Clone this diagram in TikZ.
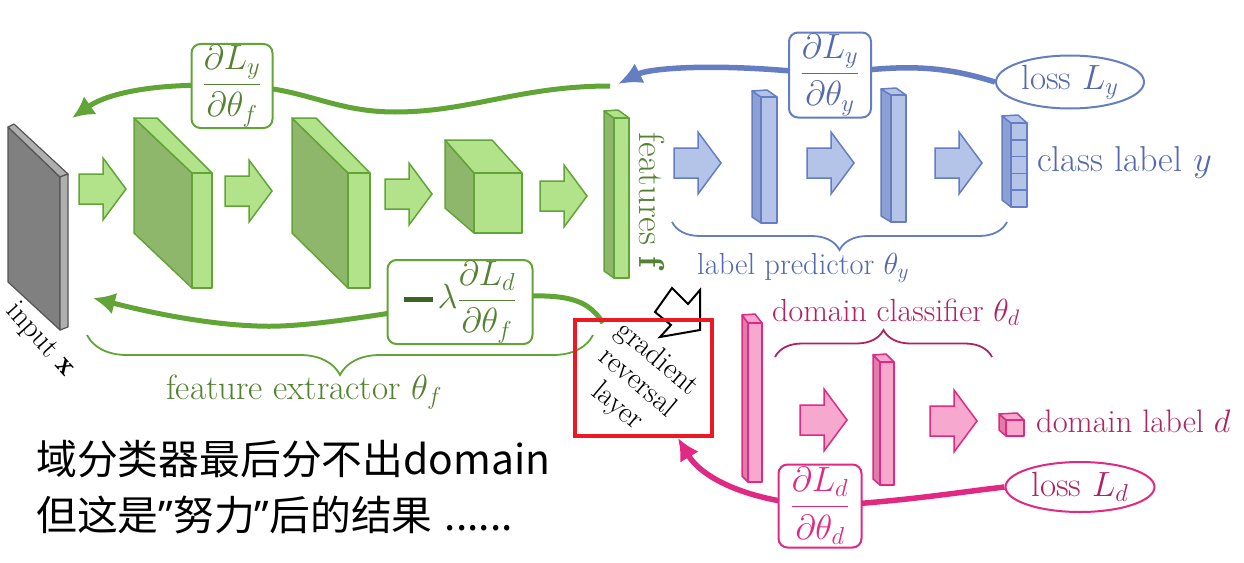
\RequirePackage{fix-cm}
\documentclass[tikz,border=0pt]{standalone}
\usepackage{amsmath}
\usepackage{fontspec}
\newfontfamily\cjk{Noto Sans CJK SC}
\newfontfamily\latq{Noto Sans}
\usetikzlibrary{arrows.meta,decorations.pathreplacing,shapes.geometric,backgrounds}
\definecolor{gline}{RGB}{98,165,55}
\definecolor{gfill}{RGB}{178,226,138}
\definecolor{gside}{RGB}{143,183,108}
\definecolor{gtext}{RGB}{85,130,50}
\definecolor{gdark}{RGB}{60,100,35}
\definecolor{bline}{RGB}{100,125,195}
\definecolor{bfill}{RGB}{180,195,232}
\definecolor{bside}{RGB}{140,160,212}
\definecolor{btext}{RGB}{85,105,175}
\definecolor{pline}{RGB}{225,40,130}
\definecolor{pfill}{RGB}{246,168,206}
\definecolor{pside}{RGB}{222,125,170}
\definecolor{ptext}{RGB}{175,35,100}
\definecolor{grayface}{RGB}{128,128,128}
\definecolor{graystrip}{RGB}{175,175,175}
\definecolor{grayline}{RGB}{85,85,85}
\definecolor{grlred}{RGB}{235,25,35}
\newcommand\fs[1]{\fontsize{#1}{#1}\selectfont}
\newcommand\blockarr[3]{\filldraw[#1] (#2,#3-15) -- (#2+24,#3-15) -- (#2+24,#3-31) -- (#2+47,#3) -- (#2+24,#3+31) -- (#2+24,#3+15) -- (#2,#3+15) -- cycle;}
\newcommand\thickminus{{\color{gdark}\rule[0.2em]{0.85em}{0.15em}}\hspace{0.12em}}
\newcommand\cnquote{{\latq ”}}
\begin{document}
\begin{tikzpicture}[x=1pt,y=-1pt,
  every node/.style={font=\fs{30}},
  gslab/.style={draw=gline, line width=1.5pt, line join=round},
  bslab/.style={draw=bline, line width=1.5pt, line join=round},
  pslab/.style={draw=pline, line width=1.5pt, line join=round},
  gslabg/.style={draw=grayline, line width=1.2pt, line join=round},
  garr/.style={draw=gline, fill=gfill, line width=1.5pt},
  barr/.style={draw=bline, fill=bfill, line width=1.5pt},
  parr/.style={draw=pline, fill=pfill, line width=1.5pt},
  gbox/.style={draw=gline, line width=2pt, rounded corners=9pt, fill=white, inner sep=1pt, text=gtext, font=\fs{35}},
  bbox/.style={draw=bline, line width=2pt, rounded corners=9pt, fill=white, inner sep=1pt, text=btext, font=\fs{35}},
  pbox/.style={draw=pline, line width=2pt, rounded corners=9pt, fill=white, inner sep=1pt, text=pline, font=\fs{35}},
  lossell/.style={ellipse, line width=2pt, fill=white, inner sep=0pt, font=\fs{35}},
  lbl/.style={anchor=base west, inner sep=0pt},
  gconn/.style={draw=gline, line width=5pt, -{Latex[length=22pt,width=22pt]}},
  bconn/.style={draw=bline, line width=5.5pt, -{Latex[length=24pt,width=22pt]}},
  pconn/.style={draw=pline, line width=5.5pt, -{Latex[length=22pt,width=22pt]}},
  bracegen/.style={decorate, line width=1.8pt}
]
\useasboundingbox (0,0) rectangle (1244,562);

% ---------- input x (gray slab)
\filldraw[gslabg, fill=grayface] (8,127) -- (60,177) -- (60,330) -- (8,282) -- cycle;
\filldraw[gslabg, fill=graystrip] (8,127) -- (14,124) -- (68,174) -- (60,177) -- cycle;
\filldraw[gslabg, fill=graystrip] (60,177) -- (68,174) -- (68,327) -- (60,330) -- cycle;

% ---------- green feature extractor
\filldraw[gslab, fill=gside] (134,118) -- (192,173) -- (192,288) -- (134,233) -- cycle;
\filldraw[gslab, fill=gfill] (134,118) -- (157,118) -- (212,173) -- (192,173) -- cycle;
\filldraw[gslab, fill=gfill] (192,173) rectangle (212,288);

\filldraw[gslab, fill=gside] (292,118) -- (348,173) -- (348,288) -- (292,233) -- cycle;
\filldraw[gslab, fill=gfill] (292,118) -- (316,118) -- (370,173) -- (348,173) -- cycle;
\filldraw[gslab, fill=gfill] (348,173) rectangle (370,288);

\filldraw[gslab, fill=gside] (445,140) -- (474,173) -- (474,233) -- (445,208) -- cycle;
\filldraw[gslab, fill=gfill] (445,140) -- (492,140) -- (522,173) -- (474,173) -- cycle;
\filldraw[gslab, fill=gfill] (474,173) rectangle (522,233);

\filldraw[gslab, fill=gside] (604,111) -- (614,118) -- (614,278) -- (604,271) -- cycle;
\filldraw[gslab, fill=gfill] (604,111) -- (618,110) -- (629,118) -- (614,118) -- cycle;
\filldraw[gslab, fill=gfill] (614,118) rectangle (629,278);

\blockarr{garr}{79}{189}
\blockarr{garr}{225}{191}
\blockarr{garr}{385}{194}
\blockarr{garr}{540}{196}

% ---------- blue label predictor
\filldraw[bslab, fill=bside] (752,91) -- (761,97) -- (761,223) -- (752,217) -- cycle;
\filldraw[bslab, fill=bfill] (752,91) -- (767,90) -- (777,97) -- (761,97) -- cycle;
\filldraw[bslab, fill=bfill] (761,97) rectangle (777,223);

\filldraw[bslab, fill=bside] (881,89) -- (891,95) -- (891,222) -- (881,216) -- cycle;
\filldraw[bslab, fill=bfill] (881,89) -- (896,88) -- (906,95) -- (891,95) -- cycle;
\filldraw[bslab, fill=bfill] (891,95) rectangle (906,222);

\filldraw[bslab, fill=bside] (1002,116) -- (1011,123) -- (1011,207) -- (1002,200) -- cycle;
\filldraw[bslab, fill=bfill] (1002,116) -- (1018,115) -- (1027,123) -- (1011,123) -- cycle;
\foreach \i in {0,...,4}
  \filldraw[bslab, fill=bfill] (1011,123+16.8*\i) rectangle (1027,123+16.8*\i+16.8);

\blockarr{barr}{674}{163}
\blockarr{barr}{807}{163}
\blockarr{barr}{935}{163}

% ---------- pink domain classifier
\filldraw[pslab, fill=pside] (742,315) -- (748,323) -- (748,482) -- (742,476) -- cycle;
\filldraw[pslab, fill=pfill] (742,315) -- (755,314) -- (762,323) -- (748,323) -- cycle;
\filldraw[pslab, fill=pfill] (748,323) rectangle (762,482);

\filldraw[pslab, fill=pside] (873,355) -- (880,362) -- (880,485) -- (873,479) -- cycle;
\filldraw[pslab, fill=pfill] (873,355) -- (886,354) -- (894,362) -- (880,362) -- cycle;
\filldraw[pslab, fill=pfill] (880,362) rectangle (894,485);

\filldraw[pslab, fill=pside] (999,414) -- (1006,420) -- (1006,436) -- (999,430) -- cycle;
\filldraw[pslab, fill=pfill] (999,414) -- (1017,413) -- (1024,420) -- (1006,420) -- cycle;
\filldraw[pslab, fill=pfill] (1006,420) rectangle (1024,436);

\blockarr{parr}{800}{420}
\blockarr{parr}{930}{421}

% ---------- braces
\draw[bracegen, draw=gline, decoration={brace, amplitude=40pt}] (593,335) -- (87,335);
\draw[bracegen, draw=bline, decoration={brace, amplitude=28pt}] (1007,222) -- (672,222);
\draw[bracegen, draw=ptext, decoration={brace, amplitude=27pt}] (775,357) -- (992,357);

% ---------- gradient boxes and losses
\node[gbox, minimum width=81, minimum height=83] (dLyf) at (232,86) {$\dfrac{\partial L_y}{\partial\theta_f}$};
\node[bbox, minimum width=82, minimum height=85] (dLyy) at (830,75) {$\dfrac{\partial L_y}{\partial\theta_y}$};
\node[lossell, draw=bline, text=btext, minimum width=148, minimum height=53] (lossy) at (1070,82) {loss $L_y$};
\node[gbox, minimum width=145, minimum height=80] (dLdf) at (460,302) {\thickminus$\lambda\dfrac{\partial L_d}{\partial\theta_f}$};
\node[pbox, minimum width=83, minimum height=83] (dLdd) at (820,506) {$\dfrac{\partial L_d}{\partial\theta_d}$};
\node[lossell, draw=pline, text=ptext, minimum width=149, minimum height=50] (lossd) at (1080,487) {loss $L_d$};

% ---------- labels
\node[lbl, text=btext, font=\fs{36}] (cly) at (1037,171) {class label $y$};
\node[lbl, text=btext, font=\fs{30.5}] (lp) at (697,274) {label predictor $\theta_y$};
\node[rotate=-90, text=gtext, inner sep=0pt, font=\fs{36}] (feat) at (652,200) {features $\mathbf{f}$};
\node[rotate=-48, inner sep=0pt] (inx) at (40,340) {input $\mathbf{x}$};
\node[lbl, text=gtext, font=\fs{35}] (fe) at (166,399) {feature extractor $\theta_f$};
\node[lbl, text=ptext, font=\fs{32}] (dc) at (772,321) {domain classifier $\theta_d$};
\node[lbl, text=ptext, font=\fs{32.5}] (dl) at (1036,432) {domain label $d$};
\node[lbl, font=\cjk\fs{40.8}] (cn1) at (36,474) {域分类器最后分不出domain};
\node[lbl, font=\cjk\fs{40.8}] (cn2) at (36,530) {但这是\cnquote 努力\cnquote 后的结果\hspace{0.3em}......};

% ---------- gradient reversal layer
\filldraw[black, fill=white, line width=2pt, line join=miter] (655,312) -- (671,325) -- (660,337) -- (700,330) -- (700,290) -- (688,304) -- (672,288) -- cycle;
\node[draw=grlred, line width=4pt, minimum width=137, minimum height=116, inner sep=0pt] (grlbox) at (643.5,378) {};
\node[rotate=-40, align=center, font=\fontsize{30}{31}\selectfont, inner sep=0pt] (grl) at (637,383) {gradient\\reversal\\layer};

% ---------- connectors (behind)
\coordinate (gstart) at (610,86);
\coordinate (gtip) at (72,118);
\coordinate (btip) at (618,84);
\coordinate (grlin) at (603,323);
\coordinate (gtip2) at (93,298);
\coordinate (ptip) at (678,438);
\begin{pgfonlayer}{background}
\draw[bconn] (lossy.west) .. controls (950,68) and (910,62) .. (dLyy.center) .. controls (720,62) and (650,68) .. (btip);
\draw[gconn] (gstart) .. controls (520,86) and (470,112) .. (395,112) .. controls (330,112) and (300,85) .. (dLyf.center) .. controls (150,82) and (105,95) .. (gtip);
\draw[gconn] (grlin) .. controls (585,295) and (560,290) .. (dLdf.center) .. controls (360,318) and (300,328) .. (257,326) .. controls (200,324) and (140,310) .. (gtip2);
\draw[pconn] (lossd.west) .. controls (960,492) and (900,502) .. (dLdd.center) .. controls (740,500) and (700,475) .. (ptip);
\end{pgfonlayer}
\end{tikzpicture}
\end{document}
